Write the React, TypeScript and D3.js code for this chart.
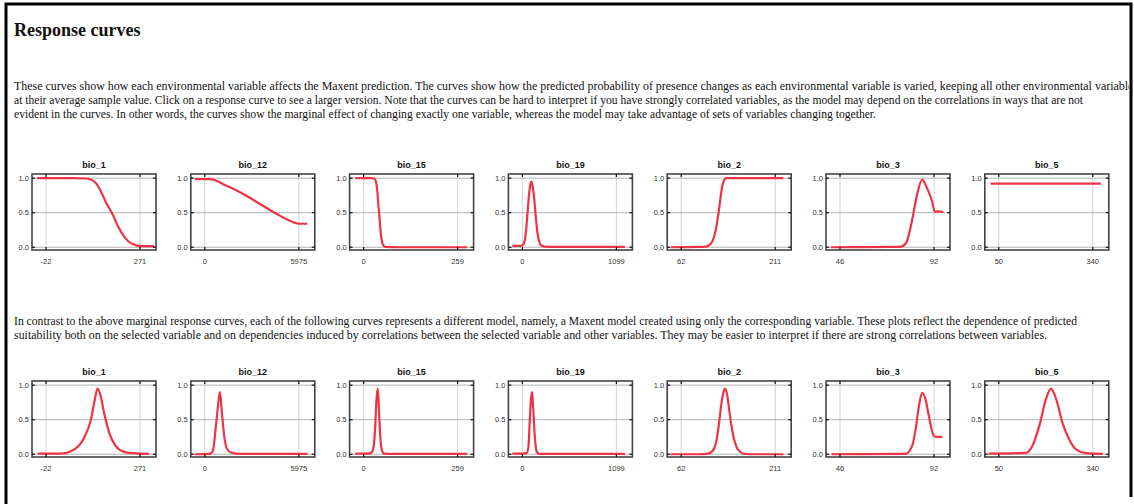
import React from "react";
import * as d3 from "d3";

const title = "Response curves";

const introLines = [
  "These curves show how each environmental variable affects the Maxent prediction. The curves show how the predicted probability of presence changes as each environmental variable is varied, keeping all other environmental variables",
  "at their average sample value. Click on a response curve to see a larger version. Note that the curves can be hard to interpret if you have strongly correlated variables, as the model may depend on the correlations in ways that are not",
  "evident in the curves. In other words, the curves show the marginal effect of changing exactly one variable, whereas the model may take advantage of sets of variables changing together.",
];
const introWidths = [1124, 1069, 862];

const contrastLines = [
  "In contrast to the above marginal response curves, each of the following curves represents a different model, namely, a Maxent model created using only the corresponding variable. These plots reflect the dependence of predicted",
  "suitability both on the selected variable and on dependencies induced by correlations between the selected variable and other variables. They may be easier to interpret if there are strong correlations between variables.",
];
const contrastWidths = [1063, 1033];

const variables = ["bio_1", "bio_12", "bio_15", "bio_19", "bio_2", "bio_3", "bio_5"];
const tickMin = [-22, 0, 0, 0, 62, 46, 50];
const tickMax = [271, 5975, 259, 1099, 211, 92, 340];
const yTicks = [0, 0.5, 1];

// marginal response, [value, probability]
const marginal: [number, number][][] = [
  [[-50, 1], [0, 1], [60, 1], [100, 0.995], [118, 0.98], [135, 0.92], [150, 0.8], [166, 0.64], [183, 0.5], [204, 0.29], [224, 0.14], [246, 0.05], [277, 0.015], [315, 0.015]],
  [[-640, 0.985], [320, 0.985], [1390, 0.89], [2452, 0.77], [3522, 0.625], [4590, 0.48], [5655, 0.36], [5975, 0.34], [6513, 0.34]],
  [[-23, 1], [20, 1], [30, 0.99], [34, 0.95], [38, 0.8], [41, 0.6], [44, 0.42], [47, 0.22], [50, 0.1], [54, 0.03], [60, 0.005], [100, 0], [285, 0]],
  [[-118, 0.02], [-20, 0.02], [10, 0.04], [40, 0.2], [60, 0.5], [79, 0.78], [95, 0.92], [106, 0.95], [120, 0.88], [138, 0.7], [158, 0.42], [177, 0.2], [197, 0.08], [217, 0.03], [260, 0.01], [400, 0.005], [1198, 0.005]],
  [[46, 0], [90, 0.005], [101, 0.01], [109, 0.05], [117, 0.26], [122, 0.55], [127, 0.88], [130, 0.97], [133.5, 1], [160, 1], [224, 1]],
  [[41.6, 0], [70, 0.005], [76, 0.01], [78.5, 0.07], [81, 0.35], [83.5, 0.73], [86.2, 0.98], [88.4, 0.87], [90.9, 0.68], [92.5, 0.51], [94.1, 0.52], [96.6, 0.51]],
  [[24.7, 0.92], [365, 0.92]],
];

// single-variable models
const single: [number, number][][] = [
  [[-48, 0.01], [25, 0.01], [66, 0.07], [97, 0.24], [118, 0.5], [130, 0.79], [138.6, 0.95], [149, 0.83], [159, 0.6], [175, 0.31], [195, 0.12], [221, 0.035], [252, 0.015], [299, 0.005]],
  [[-640, 0], [320, 0.005], [512, 0.05], [704, 0.4], [864, 0.75], [960, 0.9], [1088, 0.6], [1216, 0.3], [1408, 0.08], [1728, 0.02], [2240, 0.005], [6528, 0.005]],
  [[-23, 0.01], [15, 0.01], [23, 0.03], [28, 0.12], [32, 0.4], [35, 0.75], [38.6, 0.95], [41, 0.8], [44, 0.45], [47, 0.18], [51, 0.05], [56, 0.01], [80, 0.005], [285, 0.005]],
  [[-118, 0.01], [0, 0.01], [50, 0.02], [70, 0.1], [85, 0.45], [100, 0.8], [113, 0.9], [125, 0.7], [140, 0.35], [155, 0.12], [170, 0.03], [200, 0.005], [1198, 0.005]],
  [[46, 0], [90, 0], [105, 0.01], [112, 0.05], [118, 0.2], [122, 0.45], [126, 0.75], [129, 0.9], [132, 0.95], [135, 0.85], [138, 0.65], [141, 0.45], [145, 0.25], [150, 0.1], [155, 0.04], [160, 0.01], [170, 0], [224, 0]],
  [[41.9, 0], [78, 0.005], [81.3, 0.12], [83, 0.36], [84.6, 0.69], [86.2, 0.89], [87.9, 0.79], [89.5, 0.55], [92, 0.26], [93.6, 0.25], [96.1, 0.25]],
  [[18.9, 0.01], [133, 0.02], [153.5, 0.12], [174.3, 0.4], [195.1, 0.79], [210.7, 0.95], [226.2, 0.81], [246.7, 0.45], [267.6, 0.21], [288.4, 0.07], [319.5, 0.015], [371, 0.005]],
];

const W = 1134;
const H = 504;
const panelW = 124;
const panelH = 76;
const panelStep = 158.8;
const firstLeft = 32;
const serif = "'Liberation Serif', 'Times New Roman', serif";
const sans = "'Liberation Sans', Arial, sans-serif";

const Panel = ({ i, top, curve }: { i: number; top: number; curve: [number, number][] }) => {
  const left = firstLeft + i * panelStep;
  const x = d3.scaleLinear().domain([tickMin[i], tickMax[i]]).range([left + 14, left + panelW - 16]);
  const y = d3.scaleLinear().domain([-0.04, 1.06]).range([top + panelH, top]);
  const line = d3.line<[number, number]>()
    .x(d => x(d[0]))
    .y(d => y(d[1]))
    .curve(d3.curveMonotoneX);
  const xt = [tickMin[i], tickMax[i]];
  return (
    <g>
      <text x={left + panelW / 2} y={top - 6} textAnchor="middle" fontFamily={sans} fontWeight="bold" fontSize={9} fill="#111">
        {variables[i]}
      </text>
      <rect x={left} y={top} width={panelW} height={panelH} fill="#fff" />
      {xt.map(t => (
        <line key={"gx" + t} x1={x(t)} x2={x(t)} y1={top} y2={top + panelH} stroke="#c8c8c8" strokeWidth={0.8} />
      ))}
      {yTicks.map(t => (
        <line key={"gy" + t} x1={left} x2={left + panelW} y1={y(t)} y2={y(t)} stroke="#a0a0a0" strokeWidth={0.8} />
      ))}
      <path d={line(curve) || ""} fill="none" stroke="#ee3344" strokeWidth={2.2} strokeLinejoin="round" />
      <rect x={left} y={top} width={panelW} height={panelH} fill="none" stroke="#444" strokeWidth={1.6} />
      {yTicks.map(t => (
        <g key={"ty" + t}>
          <line x1={left} x2={left + 3} y1={y(t)} y2={y(t)} stroke="#111" strokeWidth={1.2} />
          <line x1={left + panelW - 3} x2={left + panelW} y1={y(t)} y2={y(t)} stroke="#111" strokeWidth={1.2} />
          <text x={left - 3} y={y(t) + 2.6} textAnchor="end" fontFamily={sans} fontSize={7.5} fill="#333">
            {t.toFixed(1)}
          </text>
        </g>
      ))}
      {xt.map(t => (
        <g key={"tx" + t}>
          <line x1={x(t)} x2={x(t)} y1={top} y2={top + 3} stroke="#111" strokeWidth={1.2} />
          <line x1={x(t)} x2={x(t)} y1={top + panelH - 3} y2={top + panelH} stroke="#111" strokeWidth={1.2} />
          <text x={x(t)} y={top + panelH + 14} textAnchor="middle" fontFamily={sans} fontSize={7.5} fill="#333">
            {t}
          </text>
        </g>
      ))}
    </g>
  );
};

export default function App() {
  return (
    <svg width={W} height={H} style={{ position: "absolute", left: 0, top: 0, background: "#fff" }}>
      <defs>
        <clipPath id="page">
          <rect x={0} y={0} width={1129} height={H} />
        </clipPath>
      </defs>
      <rect x={0} y={0} width={W} height={H} fill="#fff" />
      <text x={14} y={36} fontFamily={serif} fontWeight="bold" fontSize={18} fill="#111">
        {title}
      </text>
      <g clipPath="url(#page)">
        {introLines.map((s, k) => (
          <text key={k} x={14} y={90 + k * 14} fontFamily={serif} fontSize={12} fill="#111"
            textLength={introWidths[k]} lengthAdjust="spacingAndGlyphs">
            {s}
          </text>
        ))}
        {contrastLines.map((s, k) => (
          <text key={k} x={14} y={325 + k * 14} fontFamily={serif} fontSize={12} fill="#111"
            textLength={contrastWidths[k]} lengthAdjust="spacingAndGlyphs">
            {s}
          </text>
        ))}
      </g>
      {variables.map((v, i) => (
        <Panel key={"m" + v} i={i} top={174} curve={marginal[i]} />
      ))}
      {variables.map((v, i) => (
        <Panel key={"s" + v} i={i} top={381} curve={single[i]} />
      ))}
      <path d={`M6,${H} V4 H1131 V497`} fill="none" stroke="#000" strokeWidth={3} />
    </svg>
  );
}
